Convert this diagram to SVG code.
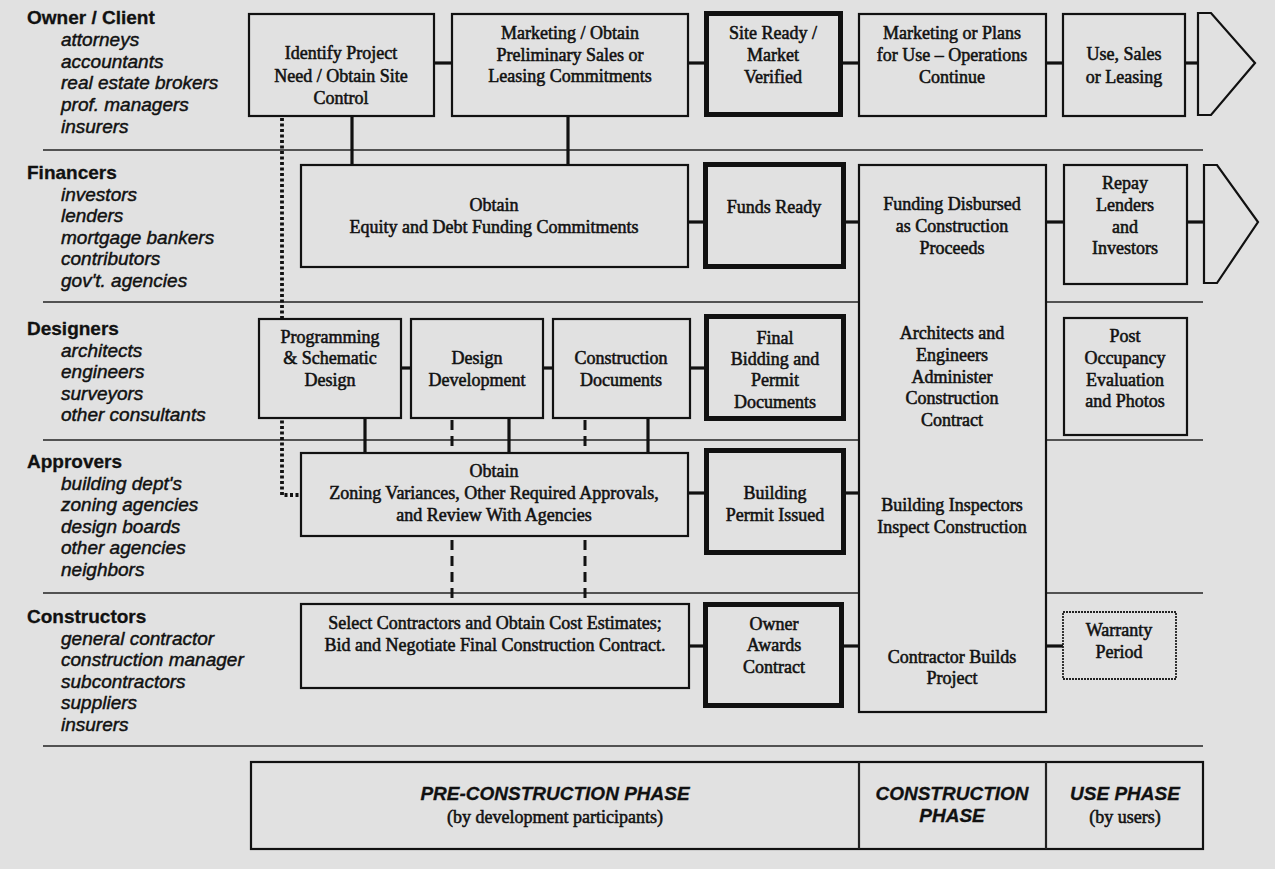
<svg xmlns="http://www.w3.org/2000/svg" width="1275" height="869" viewBox="0 0 1275 869">
<style>
.bg{fill:#e1e1e1}
.sep{stroke:#222;stroke-width:1.6;fill:none}
.box{fill:#e1e1e1;stroke:#111;stroke-width:2.2}
.key{fill:#e1e1e1;stroke:#111;stroke-width:5}
.warr{fill:#e1e1e1;stroke:#222;stroke-width:1.8;stroke-dasharray:2 1}
.link{stroke:#111;stroke-width:3.2;fill:none}
.dash{stroke:#111;stroke-width:3;stroke-dasharray:10 6;fill:none}
.dot{stroke:#111;stroke-width:3.8;stroke-dasharray:3 2.5;fill:none}
.role{font-family:"Liberation Sans",Arial,sans-serif;font-size:19px;font-weight:bold;fill:#111;stroke:#111;stroke-width:0.3}
.who{font-family:"Liberation Sans",Arial,sans-serif;font-size:19px;font-style:italic;fill:#111;stroke:#111;stroke-width:0.45}
.t{font-family:"Liberation Serif","Times New Roman",serif;font-size:18px;fill:#111;stroke:#111;stroke-width:0.55;text-anchor:middle}
.ph{font-family:"Liberation Sans",Arial,sans-serif;font-size:19px;font-weight:bold;font-style:italic;fill:#111;stroke:#111;stroke-width:0.3;text-anchor:middle}
</style>

<rect class="bg" x="0" y="0" width="1275" height="869"/>

<!-- participant bands -->
<g id="bands">
  <line class="sep" x1="43" y1="150" x2="1203" y2="150"/>
  <line class="sep" x1="43" y1="302" x2="1203" y2="302"/>
  <line class="sep" x1="43" y1="440" x2="1203" y2="440"/>
  <line class="sep" x1="43" y1="593" x2="1203" y2="593"/>
  <line class="sep" x1="43" y1="746" x2="1203" y2="746"/>
</g>

<g id="participants">
  <text class="role" x="27" y="24">Owner / Client</text>
  <text class="who" x="61" y="46">attorneys</text>
  <text class="who" x="61" y="68">accountants</text>
  <text class="who" x="61" y="89">real estate brokers</text>
  <text class="who" x="61" y="111">prof. managers</text>
  <text class="who" x="61" y="133">insurers</text>

  <text class="role" x="27" y="179">Financers</text>
  <text class="who" x="61" y="201">investors</text>
  <text class="who" x="61" y="222">lenders</text>
  <text class="who" x="61" y="244">mortgage bankers</text>
  <text class="who" x="61" y="265">contributors</text>
  <text class="who" x="61" y="287">gov't. agencies</text>

  <text class="role" x="27" y="335">Designers</text>
  <text class="who" x="61" y="357">architects</text>
  <text class="who" x="61" y="378">engineers</text>
  <text class="who" x="61" y="400">surveyors</text>
  <text class="who" x="61" y="421">other consultants</text>

  <text class="role" x="27" y="468">Approvers</text>
  <text class="who" x="61" y="490">building dept's</text>
  <text class="who" x="61" y="511">zoning agencies</text>
  <text class="who" x="61" y="533">design boards</text>
  <text class="who" x="61" y="554">other agencies</text>
  <text class="who" x="61" y="576">neighbors</text>

  <text class="role" x="27" y="623">Constructors</text>
  <text class="who" x="61" y="645">general contractor</text>
  <text class="who" x="61" y="666">construction manager</text>
  <text class="who" x="61" y="688">subcontractors</text>
  <text class="who" x="61" y="709">suppliers</text>
  <text class="who" x="61" y="731">insurers</text>
</g>

<!-- connectors -->
<g id="connectors">
  <line class="link" x1="434" y1="63" x2="452" y2="63"/>
  <line class="link" x1="688" y1="63" x2="706" y2="63"/>
  <line class="link" x1="843" y1="63" x2="859" y2="63"/>
  <line class="link" x1="1046" y1="63" x2="1063" y2="63"/>
  <line class="link" x1="1185" y1="63" x2="1198" y2="63"/>

  <line class="link" x1="688" y1="222" x2="705" y2="222"/>
  <line class="link" x1="846" y1="222" x2="859" y2="222"/>
  <line class="link" x1="1046" y1="222" x2="1064" y2="222"/>
  <line class="link" x1="1187" y1="222" x2="1204" y2="222"/>

  <line class="link" x1="401" y1="368" x2="411" y2="368"/>
  <line class="link" x1="543" y1="368" x2="553" y2="368"/>
  <line class="link" x1="690" y1="368" x2="706" y2="368"/>

  <line class="link" x1="688" y1="493" x2="706" y2="493"/>
  <line class="link" x1="846" y1="493" x2="859" y2="493"/>

  <line class="link" x1="689" y1="646" x2="705" y2="646"/>
  <line class="link" x1="844" y1="646" x2="859" y2="646"/>
  <line class="link" x1="1046" y1="646" x2="1063" y2="646"/>

  <line class="link" x1="352" y1="117" x2="352" y2="165"/>
  <line class="link" x1="568" y1="116" x2="568" y2="165"/>
  <line class="link" x1="365" y1="418" x2="365" y2="453"/>
  <line class="link" x1="509" y1="418" x2="509" y2="453"/>
  <line class="link" x1="648" y1="418" x2="648" y2="453"/>

  <line class="dash" x1="452" y1="420" x2="452" y2="453"/>
  <line class="dash" x1="585" y1="420" x2="585" y2="453"/>
  <line class="dash" x1="452" y1="540" x2="452" y2="604"/>
  <line class="dash" x1="585" y1="540" x2="585" y2="604"/>

  <path class="dot" d="M282 118 V495 H300"/>
</g>

<!-- Owner / Client row -->
<g id="identify-project">
  <rect class="box" x="249" y="14" width="185" height="102"/>
  <text class="t" x="341" y="59">Identify Project</text>
  <text class="t" x="341" y="82">Need / Obtain Site</text>
  <text class="t" x="341" y="104">Control</text>
</g>
<g id="marketing">
  <rect class="box" x="452" y="14" width="236" height="102"/>
  <text class="t" x="570" y="39">Marketing / Obtain</text>
  <text class="t" x="570" y="61">Preliminary Sales or</text>
  <text class="t" x="570" y="82">Leasing Commitments</text>
</g>
<g id="site-ready">
  <rect class="key" x="706.5" y="13.5" width="134" height="101"/>
  <text class="t" x="773" y="39">Site Ready /</text>
  <text class="t" x="773" y="61">Market</text>
  <text class="t" x="773" y="83">Verified</text>
</g>
<g id="operations">
  <rect class="box" x="859" y="14" width="187" height="102"/>
  <text class="t" x="952" y="39">Marketing or Plans</text>
  <text class="t" x="952" y="61">for Use – Operations</text>
  <text class="t" x="952" y="83">Continue</text>
</g>
<g id="use-sales">
  <rect class="box" x="1063" y="14" width="122" height="102"/>
  <text class="t" x="1124" y="60">Use, Sales</text>
  <text class="t" x="1124" y="83">or Leasing</text>
</g>
<g id="owner-arrow">
  <polygon class="box" points="1198,13 1211,13 1255,63 1211,115 1198,115"/>
</g>

<!-- Financers row -->
<g id="funding-commitments">
  <rect class="box" x="301" y="165" width="387" height="102"/>
  <text class="t" x="494" y="211">Obtain</text>
  <text class="t" x="494" y="233">Equity and Debt Funding Commitments</text>
</g>
<g id="funds-ready">
  <rect class="key" x="705.5" y="164.5" width="138" height="102"/>
  <text class="t" x="774" y="213">Funds Ready</text>
</g>
<g id="construction-column">
  <rect class="box" x="859" y="165" width="187" height="547"/>
  <text class="t" x="952" y="210">Funding Disbursed</text>
  <text class="t" x="952" y="232">as Construction</text>
  <text class="t" x="952" y="254">Proceeds</text>
  <text class="t" x="952" y="339">Architects and</text>
  <text class="t" x="952" y="361">Engineers</text>
  <text class="t" x="952" y="383">Administer</text>
  <text class="t" x="952" y="404">Construction</text>
  <text class="t" x="952" y="426">Contract</text>
  <text class="t" x="952" y="511">Building Inspectors</text>
  <text class="t" x="952" y="533">Inspect Construction</text>
  <text class="t" x="952" y="663">Contractor Builds</text>
  <text class="t" x="952" y="684">Project</text>
</g>
<g id="repay">
  <rect class="box" x="1064" y="165" width="123" height="119"/>
  <text class="t" x="1125" y="189">Repay</text>
  <text class="t" x="1125" y="211">Lenders</text>
  <text class="t" x="1125" y="233">and</text>
  <text class="t" x="1125" y="254">Investors</text>
</g>
<g id="finance-arrow">
  <polygon class="box" points="1204,165 1217,165 1258,222 1217,283 1204,283"/>
</g>

<!-- Designers row -->
<g id="programming">
  <rect class="box" x="259" y="319" width="142" height="99"/>
  <text class="t" x="330" y="343">Programming</text>
  <text class="t" x="330" y="364">&amp; Schematic</text>
  <text class="t" x="330" y="386">Design</text>
</g>
<g id="design-development">
  <rect class="box" x="411" y="319" width="132" height="99"/>
  <text class="t" x="477" y="364">Design</text>
  <text class="t" x="477" y="386">Development</text>
</g>
<g id="construction-documents">
  <rect class="box" x="553" y="319" width="137" height="99"/>
  <text class="t" x="621" y="364">Construction</text>
  <text class="t" x="621" y="386">Documents</text>
</g>
<g id="final-bidding">
  <rect class="key" x="706.5" y="316.5" width="137" height="102"/>
  <text class="t" x="775" y="344">Final</text>
  <text class="t" x="775" y="365">Bidding and</text>
  <text class="t" x="775" y="386">Permit</text>
  <text class="t" x="775" y="408">Documents</text>
</g>
<g id="post-occupancy">
  <rect class="box" x="1064" y="318" width="123" height="117"/>
  <text class="t" x="1125" y="342">Post</text>
  <text class="t" x="1125" y="364">Occupancy</text>
  <text class="t" x="1125" y="386">Evaluation</text>
  <text class="t" x="1125" y="407">and Photos</text>
</g>

<!-- Approvers row -->
<g id="approvals">
  <rect class="box" x="301" y="453" width="387" height="83"/>
  <text class="t" x="494" y="477">Obtain</text>
  <text class="t" x="494" y="499">Zoning Variances, Other Required Approvals,</text>
  <text class="t" x="494" y="521">and Review With Agencies</text>
</g>
<g id="permit-issued">
  <rect class="key" x="706.5" y="450.5" width="137" height="102"/>
  <text class="t" x="775" y="499">Building</text>
  <text class="t" x="775" y="521">Permit Issued</text>
</g>

<!-- Constructors row -->
<g id="select-contractors">
  <rect class="box" x="301" y="604" width="388" height="84"/>
  <text class="t" x="495" y="629">Select Contractors and Obtain Cost Estimates;</text>
  <text class="t" x="495" y="651">Bid and Negotiate Final Construction Contract.</text>
</g>
<g id="owner-awards">
  <rect class="key" x="705.5" y="604.5" width="136" height="101"/>
  <text class="t" x="774" y="630">Owner</text>
  <text class="t" x="774" y="651">Awards</text>
  <text class="t" x="774" y="673">Contract</text>
</g>
<g id="warranty">
  <rect class="warr" x="1063" y="612" width="113" height="67"/>
  <text class="t" x="1119" y="636">Warranty</text>
  <text class="t" x="1119" y="658">Period</text>
</g>

<!-- phase bar -->
<g id="phases">
  <rect class="box" x="251" y="762" width="952" height="87"/>
  <line class="sep" x1="859" y1="762" x2="859" y2="849" style="stroke-width:2.2"/>
  <line class="sep" x1="1046" y1="762" x2="1046" y2="849" style="stroke-width:2.2"/>
  <text class="ph" x="555" y="800">PRE-CONSTRUCTION PHASE</text>
  <text class="t" x="555" y="823">(by development participants)</text>
  <text class="ph" x="952" y="800">CONSTRUCTION</text>
  <text class="ph" x="952" y="822">PHASE</text>
  <text class="ph" x="1125" y="800">USE PHASE</text>
  <text class="t" x="1125" y="823">(by users)</text>
</g>
</svg>
